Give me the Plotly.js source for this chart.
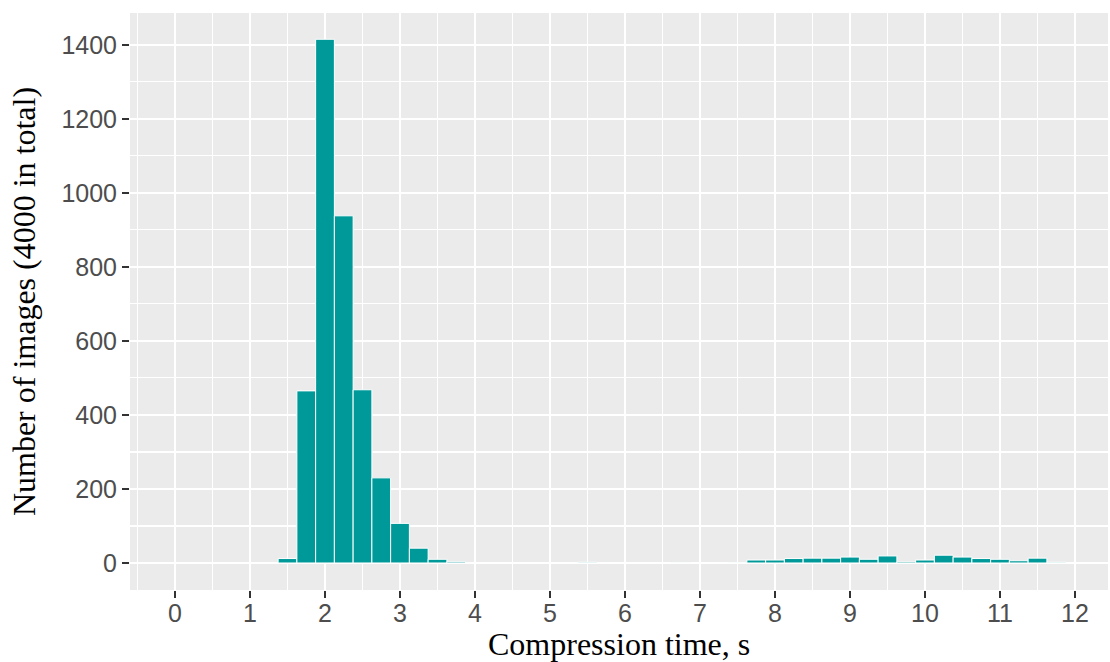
<!DOCTYPE html>
<html>
<head>
<meta charset="utf-8">
<script src="https://cdn.plot.ly/plotly-3.0.1.min.js"></script>
<style>html,body{margin:0;padding:0;background:#fff;}#chart{width:1110px;height:662px;}</style>
</head>
<body>
<div id="chart"></div>
<script>
// Bin centres (seconds), bin width 0.25 s
const binCenters = [0,0.25,0.5,0.75,1,1.25,1.5,1.75,2,2.25,2.5,2.75,3,3.25,3.5,3.75,
  4,4.25,4.5,4.75,5,5.25,5.5,5.75,6,6.25,6.5,6.75,7,7.25,7.5,7.75,
  8,8.25,8.5,8.75,9,9.25,9.5,9.75,10,10.25,10.5,10.75,11,11.25,11.5,11.75];
const counts = [0,0,0,0,0,0,12,465,1415,938,468,230,107,40,10,3,
  0,0,0,0,0,0,2,0,0,0,0,1,0,0,1,8,
  8,12,13,13,16,10,19,3,8,21,16,12,10,6,13,2];
const binWidth = 0.25;
const xTicks = [0,1,2,3,4,5,6,7,8,9,10,11,12];
const yTicks = [0,200,400,600,800,1000,1200,1400];
const xTitle = 'Compression time, s';
const yTitle = 'Number of images (4000 in total)';

const trace = {
  type: 'bar',
  x: binCenters,
  y: counts,
  width: binCenters.map(() => binWidth),
  marker: {color: '#009999', line: {color: '#ffffff', width: 1}},
  hoverinfo: 'skip'
};

const tickFont = {family: '"Liberation Sans", Arial, sans-serif', size: 25, color: '#4D4D4D'};
const titleFont = {family: '"Liberation Serif", "Times New Roman", serif', size: 32, color: '#000000'};

const layout = {
  width: 1110, height: 662,
  margin: {l: 130, r: 2, t: 13, b: 72, pad: 0},
  paper_bgcolor: '#ffffff',
  plot_bgcolor: '#EBEBEB',
  showlegend: false,
  bargap: 0,
  xaxis: {
    range: [-0.6, 12.44],
    tickmode: 'array', tickvals: xTicks, ticktext: xTicks.map(String),
    ticks: 'outside', ticklen: 7, tickwidth: 2.2, tickcolor: '#333333',
    ticklabelstandoff: -6,
    tickfont: tickFont,
    showgrid: true, gridcolor: '#ffffff', gridwidth: 2.1,
    minor: {dtick: 0.5, tick0: 0.5, showgrid: true, gridcolor: '#ffffff', gridwidth: 1.1, ticks: ''},
    zeroline: false, showline: false,
    automargin: false, fixedrange: true
  },
  yaxis: {
    range: [-73, 1486],
    tickmode: 'array', tickvals: yTicks, ticktext: yTicks.map(String),
    ticks: 'outside', ticklen: 7, tickwidth: 2.2, tickcolor: '#333333',
    tickfont: tickFont,
    showgrid: true, gridcolor: '#ffffff', gridwidth: 2.1,
    minor: {dtick: 200, tick0: 100, showgrid: true, gridcolor: '#ffffff', gridwidth: 1.1, ticks: ''},
    zeroline: false, showline: false,
    title: {text: yTitle, font: titleFont, standoff: 16},
    automargin: false, fixedrange: true
  },
  annotations: [{
    text: xTitle, font: titleFont, showarrow: false,
    xref: 'paper', yref: 'paper', x: 0.5, y: 0,
    xanchor: 'center', yanchor: 'top', yshift: -34
  }]
};

Plotly.newPlot('chart', [trace], layout, {displayModeBar: false, staticPlot: true});
</script>
</body>
</html>
